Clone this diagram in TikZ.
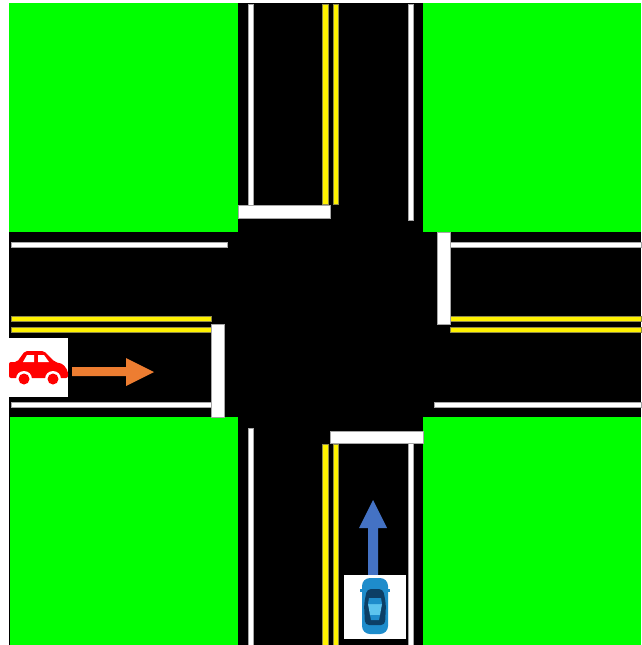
\documentclass[tikz,border=0pt]{standalone}
\usepackage{tikz}
\definecolor{arroworange}{HTML}{ED7D31}
\definecolor{arrowblue}{HTML}{4472C4}
\definecolor{carblue}{HTML}{1E8CCB}
\definecolor{cardark}{HTML}{0C3F66}
\definecolor{carlight}{HTML}{5CC4EE}
\tikzset{
  whiteline/.style={fill=white,draw=black!35,line width=0.4pt},
  yellowline/.style={fill=yellow,draw=black!50!yellow,line width=0.3pt},
  grass/.style={fill=green},
}
\begin{document}
\begin{tikzpicture}[x=1pt,y=-1pt]
\useasboundingbox (0,0) rectangle (641,645);

% Road
\fill[black] (9,3) rectangle (641,645);

% Grass
\fill[grass] (9,3) rectangle (238,232);
\fill[grass] (423,3) rectangle (641,232);
\fill[grass] (10,417) rectangle (238,645);
\fill[grass] (423,417) rectangle (641,645);

% Edge lines
\draw[whiteline] (248,4) rectangle (253,205);
\draw[whiteline] (408,4) rectangle (413,220);
\draw[whiteline] (248,428) rectangle (253,645);
\draw[whiteline] (408,443) rectangle (413,645);
\draw[whiteline] (11,242) rectangle (227,247);
\draw[whiteline] (11,402) rectangle (211,407);
\draw[whiteline] (450,242) rectangle (641,247);
\draw[whiteline] (434,402) rectangle (641,407);

% Double yellow lines
\foreach \x in {322.5,333}
{
\draw[yellowline] (\x,4) rectangle (\x+5.6,204);
\draw[yellowline] (\x,444) rectangle (\x+5.6,645);
}
\foreach \y in {316,326.7}
{
\draw[yellowline] (11,\y) rectangle (211,\y+5.6);
\draw[yellowline] (450,\y) rectangle (641,\y+5.6);
}

% Stop bars
\draw[whiteline] (238,205) rectangle (330,218);
\draw[whiteline] (211,324) rectangle (224,417);
\draw[whiteline] (437,232) rectangle (450,324);
\draw[whiteline] (330,431) rectangle (423,443);

% Red car
\fill[white] (9,338) rectangle (68,397);
\fill[red,rounded corners=2pt] (9,378) -- (9,362) -- (17,362) -- (25,351) -- (44,351)
  -- (55,362) -- (63,364) -- (68,371) -- (68,378) -- cycle;
\fill[white] (23,362) -- (27,355) -- (34,355) -- (34,362) -- cycle;
\fill[white] (38,355) -- (44,355) -- (49,362) -- (38,362) -- cycle;
\foreach \x in {24,53}
{
\fill[white] (\x,379) circle (8);
\fill[red] (\x,379) circle (5.5);
}

% Orange arrow
\fill[arroworange] (72,367) -- (126,367) -- (126,358) -- (154,372)
  -- (126,386) -- (126,376) -- (72,376) -- cycle;

% Blue arrow
\fill[arrowblue] (368,575) -- (368,528) -- (359,528) -- (373,500)
  -- (387,528) -- (378,528) -- (378,575) -- cycle;

% Blue car
\fill[white] (344,575) rectangle (406,639);
\fill[carblue] (360,589) rectangle (390,592);
\fill[carblue,rounded corners=8pt] (362,578) rectangle (388,634);
\fill[cardark,rounded corners=4pt] (367,589) -- (383,589) -- (386,604) -- (385,625)
  -- (365,625) -- (364,604) -- cycle;
\fill[carlight] (368,604) -- (382,604) -- (380,615) -- (370,615) -- cycle;
\fill[carblue] (369,598) -- (381,598) -- (382,604) -- (368,604) -- cycle;
\fill[carblue] (370,615) -- (380,615) -- (379,620) -- (371,620) -- cycle;

\end{tikzpicture}
\end{document}
